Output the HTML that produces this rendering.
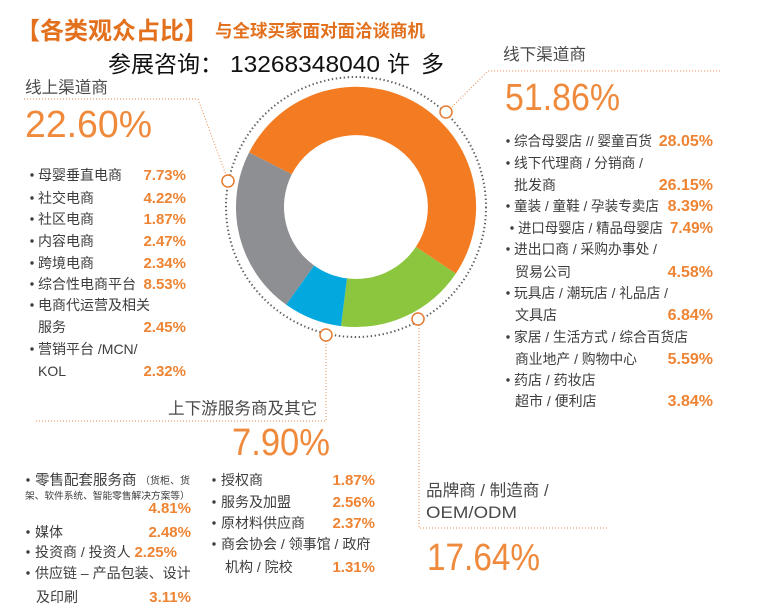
<!DOCTYPE html>
<html><head><meta charset="utf-8"><style>
html,body{margin:0;padding:0;background:#fff;}
svg{display:block;font-family:"Liberation Sans","Noto Sans CJK SC",sans-serif;}
.t{fill:#3d3d3d;font-size:14px;}
.h{fill:#4a4a4a;font-size:16.6px;}
.p{fill:#ee8433;font-size:15px;font-weight:bold;}
.pr{fill:#ee8433;font-size:16px;font-weight:bold;}
.big{fill:#ef8a3d;font-size:38px;}
.ld{fill:none;stroke:#e9894a;stroke-width:1;stroke-dasharray:1 2;}
.mk{fill:#fff;stroke:#e57c33;stroke-width:1.5;}
</style></head><body>
<svg width="762" height="610" viewBox="0 0 762 610" xmlns="http://www.w3.org/2000/svg">
<!-- titles -->
<text x="16" y="39" font-size="24" font-weight="bold" fill="#e2701d">【各类观众占比】</text>
<text x="215" y="37" font-size="17.5" font-weight="bold" fill="#e2701d">与全球买家面对面洽谈商机</text>
<text x="108" y="72" font-size="23" fill="#111">参展咨询：</text>
<text x="230" y="72" font-size="23" fill="#111" textLength="150" lengthAdjust="spacingAndGlyphs">13268348040</text>
<text x="387" y="72" font-size="23" fill="#111">许</text>
<text x="421" y="72" font-size="23" fill="#111">多</text>

<!-- leader lines -->
<polyline class="ld" points="24,99 198,99 226,175"/>
<polyline class="ld" points="452,107 488,71 722,71"/>
<polyline class="ld" points="326,341 326,421 35,421"/>
<polyline class="ld" points="419,325 419,528 607,528"/>

<!-- dotted ring -->
<circle cx="356" cy="207" r="130" fill="none" stroke="#5f6064" stroke-width="2" stroke-dasharray="1.4 2.6"/>

<!-- donut -->
<path d="M249.1 152.5 A120 120 0 1 1 455.8 273.6 L415.9 246.9 A72 72 0 1 0 291.8 174.3 Z" fill="#f37b21"/>
<path d="M455.8 273.6 A120 120 0 0 1 341.0 326.1 L347.0 278.4 A72 72 0 0 0 415.9 246.9 Z" fill="#8cc63f"/>
<path d="M341.0 326.1 A120 120 0 0 1 286.1 304.6 L314.1 265.5 A72 72 0 0 0 347.0 278.4 Z" fill="#03a9de"/>
<path d="M286.1 304.6 A120 120 0 0 1 249.1 152.5 L291.8 174.3 A72 72 0 0 0 314.1 265.5 Z" fill="#8e8f93"/>

<!-- markers -->
<circle class="mk" cx="446" cy="112" r="6"/>
<circle class="mk" cx="228" cy="181" r="6"/>
<circle class="mk" cx="326" cy="335" r="6"/>
<circle class="mk" cx="418" cy="319" r="6"/>

<!-- left block -->
<text class="h" x="25" y="93">线上渠道商</text>
<text class="big" x="25" y="137" textLength="127" lengthAdjust="spacingAndGlyphs">22.60%</text>
<g class="t">
<circle cx="32" cy="175" r="1.7" fill="#3d3d3d"/><text x="38" y="180">母婴垂直电商</text>
<circle cx="32" cy="198" r="1.7" fill="#3d3d3d"/><text x="38" y="203">社交电商</text>
<circle cx="32" cy="219" r="1.7" fill="#3d3d3d"/><text x="38" y="224">社区电商</text>
<circle cx="32" cy="241" r="1.7" fill="#3d3d3d"/><text x="38" y="246">内容电商</text>
<circle cx="32" cy="263" r="1.7" fill="#3d3d3d"/><text x="38" y="268">跨境电商</text>
<circle cx="32" cy="284" r="1.7" fill="#3d3d3d"/><text x="38" y="289">综合性电商平台</text>
<circle cx="32" cy="305" r="1.7" fill="#3d3d3d"/><text x="38" y="310">电商代运营及相关</text>
<text x="38" y="332">服务</text>
<circle cx="32" cy="349" r="1.7" fill="#3d3d3d"/><text x="38" y="354">营销平台 /MCN/</text>
<text x="38" y="376">KOL</text>
</g>
<g class="p" text-anchor="end">
<text x="186" y="180">7.73%</text>
<text x="186" y="203">4.22%</text>
<text x="186" y="224">1.87%</text>
<text x="186" y="246">2.47%</text>
<text x="186" y="268">2.34%</text>
<text x="186" y="289">8.53%</text>
<text x="186" y="332">2.45%</text>
<text x="186" y="376">2.32%</text>
</g>

<!-- right block -->
<text class="h" x="503" y="60">线下渠道商</text>
<text class="big" x="505" y="110" textLength="115" lengthAdjust="spacingAndGlyphs">51.86%</text>
<g class="t">
<circle cx="508" cy="141" r="1.7" fill="#3d3d3d"/><text x="514" y="146" textLength="138" lengthAdjust="spacingAndGlyphs">综合母婴店 // 婴童百货</text>
<circle cx="508" cy="163" r="1.7" fill="#3d3d3d"/><text x="514" y="168" textLength="129" lengthAdjust="spacingAndGlyphs">线下代理商 / 分销商 /</text>
<text x="514" y="190">批发商</text>
<circle cx="508" cy="206" r="1.7" fill="#3d3d3d"/><text x="514" y="211" textLength="145" lengthAdjust="spacingAndGlyphs">童装 / 童鞋 / 孕装专卖店</text>
<circle cx="512" cy="228" r="1.7" fill="#3d3d3d"/><text x="518" y="233" textLength="145" lengthAdjust="spacingAndGlyphs">进口母婴店 / 精品母婴店</text>
<circle cx="508" cy="249" r="1.7" fill="#3d3d3d"/><text x="514" y="254" textLength="143" lengthAdjust="spacingAndGlyphs">进出口商 / 采购办事处 /</text>
<text x="515" y="277">贸易公司</text>
<circle cx="508" cy="293" r="1.7" fill="#3d3d3d"/><text x="514" y="298" textLength="154" lengthAdjust="spacingAndGlyphs">玩具店 / 潮玩店 / 礼品店 /</text>
<text x="515" y="320">文具店</text>
<circle cx="508" cy="337" r="1.7" fill="#3d3d3d"/><text x="514" y="342" textLength="174" lengthAdjust="spacingAndGlyphs">家居 / 生活方式 / 综合百货店</text>
<text x="515" y="364" textLength="122" lengthAdjust="spacingAndGlyphs">商业地产 / 购物中心</text>
<circle cx="508" cy="380" r="1.7" fill="#3d3d3d"/><text x="514" y="385">药店 / 药妆店</text>
<text x="515" y="406">超市 / 便利店</text>
</g>
<g class="pr" text-anchor="end">
<text x="713" y="146">28.05%</text>
<text x="713" y="190">26.15%</text>
<text x="713" y="211">8.39%</text>
<text x="713" y="233" textLength="43" lengthAdjust="spacingAndGlyphs">7.49%</text>
<text x="713" y="277">4.58%</text>
<text x="713" y="320">6.84%</text>
<text x="713" y="364">5.59%</text>
<text x="713" y="406">3.84%</text>
</g>

<!-- bottom middle block -->
<text class="h" x="168" y="414">上下游服务商及其它</text>
<text class="big" x="232" y="455" textLength="98" lengthAdjust="spacingAndGlyphs">7.90%</text>
<g class="t">
<circle cx="28" cy="480" r="1.7" fill="#3d3d3d"/><text x="35" y="485" font-size="14.5">零售配套服务商</text>
<text x="140" y="484" font-size="10">（货柜、货</text>
<text x="25" y="499" font-size="9.7">架、软件系统、智能零售解决方案等）</text>
<circle cx="28" cy="532" r="1.7" fill="#3d3d3d"/><text x="35" y="537">媒体</text>
<circle cx="28" cy="552" r="1.7" fill="#3d3d3d"/><text x="35" y="557">投资商 / 投资人</text>
<circle cx="28" cy="573" r="1.7" fill="#3d3d3d"/><text x="35" y="578">供应链 – 产品包装、设计</text>
<text x="36" y="602">及印刷</text>

<circle cx="214" cy="480" r="1.7" fill="#3d3d3d"/><text x="221" y="485">授权商</text>
<circle cx="214" cy="502" r="1.7" fill="#3d3d3d"/><text x="221" y="507">服务及加盟</text>
<circle cx="214" cy="523" r="1.7" fill="#3d3d3d"/><text x="221" y="528">原材料供应商</text>
<circle cx="214" cy="544" r="1.7" fill="#3d3d3d"/><text x="221" y="549">商会协会 / 领事馆 / 政府</text>
<text x="225" y="572">机构 / 院校</text>
</g>
<g class="p" text-anchor="end">
<text x="191" y="513">4.81%</text>
<text x="191" y="537">2.48%</text>
<text x="177" y="557">2.25%</text>
<text x="191" y="602">3.11%</text>
<text x="375" y="485">1.87%</text>
<text x="375" y="507">2.56%</text>
<text x="375" y="528">2.37%</text>
<text x="375" y="572">1.31%</text>
</g>

<!-- bottom right block -->
<text class="h" x="426" y="496">品牌商 / 制造商 /</text>
<text class="h" x="426" y="518" font-size="17" textLength="91" lengthAdjust="spacingAndGlyphs">OEM/ODM</text>
<text class="big" x="427" y="570" textLength="113" lengthAdjust="spacingAndGlyphs">17.64%</text>
</svg>
</body></html>
